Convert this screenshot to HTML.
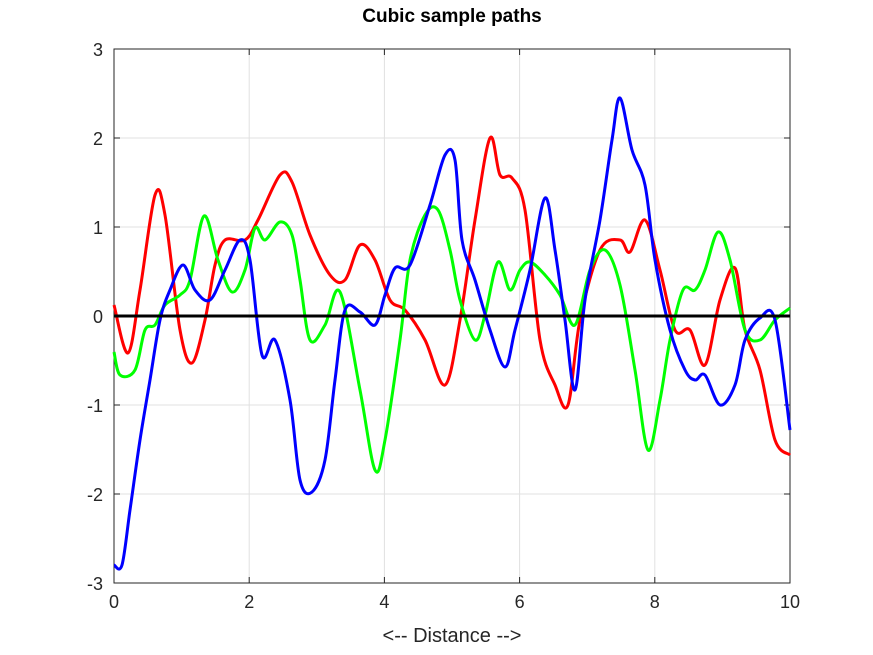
<!DOCTYPE html>
<html><head><meta charset="utf-8"><style>
html,body{margin:0;padding:0;background:#fff;}
svg{display:block;font-family:"Liberation Sans",sans-serif;}
</style></head><body>
<svg id="s" width="873" height="655" viewBox="0 0 873 655" xmlns="http://www.w3.org/2000/svg">
<rect width="873" height="655" fill="#fff"/>
<g stroke="#e0e0e0" stroke-width="1">
<line x1="249.2" y1="49" x2="249.2" y2="583"/>
<line x1="384.4" y1="49" x2="384.4" y2="583"/>
<line x1="519.6" y1="49" x2="519.6" y2="583"/>
<line x1="654.8" y1="49" x2="654.8" y2="583"/>
<line x1="114" y1="138" x2="790" y2="138"/>
<line x1="114" y1="227" x2="790" y2="227"/>
<line x1="114" y1="405" x2="790" y2="405"/>
<line x1="114" y1="494" x2="790" y2="494"/>
</g>
<rect x="114" y="49" width="676" height="534" fill="none" stroke="#262626" stroke-width="1"/>
<g stroke="#262626" stroke-width="1">
<line x1="249.2" y1="583" x2="249.2" y2="577"/><line x1="384.4" y1="583" x2="384.4" y2="577"/><line x1="519.6" y1="583" x2="519.6" y2="577"/><line x1="654.8" y1="583" x2="654.8" y2="577"/>
<line x1="249.2" y1="49" x2="249.2" y2="55"/><line x1="384.4" y1="49" x2="384.4" y2="55"/><line x1="519.6" y1="49" x2="519.6" y2="55"/><line x1="654.8" y1="49" x2="654.8" y2="55"/>
<line x1="114" y1="138" x2="120" y2="138"/><line x1="114" y1="227" x2="120" y2="227"/><line x1="114" y1="316" x2="120" y2="316"/><line x1="114" y1="405" x2="120" y2="405"/><line x1="114" y1="494" x2="120" y2="494"/>
<line x1="790" y1="138" x2="784" y2="138"/><line x1="790" y1="227" x2="784" y2="227"/><line x1="790" y1="405" x2="784" y2="405"/><line x1="790" y1="494" x2="784" y2="494"/>
</g>
<g fill="none" stroke-width="3" stroke-linejoin="round" id="curves">
<polyline stroke="#ff0000" points="114,305 128,353 140,290 155,195 165,215 180,330 192,363 205,320 215,265 225,240 245,240 258,220 280,175 292,182 310,235 330,275 345,280 360,245 375,260 390,300 405,310 425,340 445,385 460,320 475,220 490,138 500,175 512,178 525,210 540,340 555,385 568,405 580,320 600,250 620,240 630,252 645,220 660,270 675,330 690,330 705,365 720,300 735,268 745,330 760,370 775,440 790,455"/>
<polyline stroke="#00ff00" points="114,352 120,375 135,370 145,330 155,325 165,305 180,295 190,280 204,216 218,260 232,292 245,270 255,228 265,240 280,222 292,235 300,280 310,340 325,325 340,292 360,390 375,470 385,440 400,340 410,260 425,215 438,210 450,250 460,300 475,340 485,315 498,262 510,290 520,270 530,262 545,275 560,295 575,325 590,270 605,250 620,285 635,370 648,450 660,400 670,340 683,290 695,290 705,270 718,232 730,260 745,330 760,340 775,320 790,308"/>
<polyline stroke="#0000ff" points="114,565 122,565 130,510 140,440 150,380 160,320 170,290 183,265 195,290 210,300 225,270 240,240 250,260 262,355 275,340 290,400 300,480 312,492 325,460 335,380 345,310 360,312 375,325 385,295 395,268 410,265 430,205 445,155 455,160 462,240 475,280 490,330 505,367 515,330 530,270 545,198 555,250 565,320 575,390 585,300 600,220 612,140 620,98 632,150 645,185 655,260 670,330 685,370 695,380 705,375 720,405 735,385 745,340 760,318 775,320 790,430"/>
</g>
<line x1="114" y1="316" x2="790" y2="316" stroke="#000" stroke-width="3"/>
<g font-size="18" fill="#262626" text-anchor="end">
<text x="103" y="56">3</text><text x="103" y="145">2</text><text x="103" y="234">1</text><text x="103" y="323">0</text><text x="103" y="412">-1</text><text x="103" y="501">-2</text><text x="103" y="590">-3</text>
</g>
<g font-size="18" fill="#262626" text-anchor="middle">
<text x="114" y="608">0</text><text x="249.2" y="608">2</text><text x="384.4" y="608">4</text><text x="519.6" y="608">6</text><text x="654.8" y="608">8</text><text x="790" y="608">10</text>
<text x="452" y="642" font-size="20">&lt;-- Distance --&gt;</text>
<text x="452" y="22" font-size="19" font-weight="bold" fill="#000">Cubic sample paths</text>
</g>
</svg>
<script>
document.querySelectorAll('#curves polyline').forEach(function(pl){
  var p=pl.getAttribute('points').trim().split(/\s+/).map(function(s){return s.split(',').map(Number);});
  var d='M'+p[0][0]+','+p[0][1];
  for(var i=0;i<p.length-1;i++){
    var p0=p[i-1]||p[i],p1=p[i],p2=p[i+1],p3=p[i+2]||p2;
    var c1=[p1[0]+(p2[0]-p0[0])/6,p1[1]+(p2[1]-p0[1])/6];
    var c2=[p2[0]-(p3[0]-p1[0])/6,p2[1]-(p3[1]-p1[1])/6];
    d+=' C'+c1[0]+','+c1[1]+' '+c2[0]+','+c2[1]+' '+p2[0]+','+p2[1];
  }
  var path=document.createElementNS('http://www.w3.org/2000/svg','path');
  path.setAttribute('d',d);path.setAttribute('stroke',pl.getAttribute('stroke'));
  pl.parentNode.replaceChild(path,pl);
});
</script>
</body></html>
